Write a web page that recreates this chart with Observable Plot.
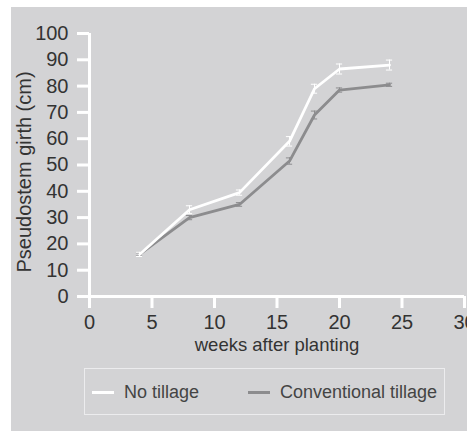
<!DOCTYPE html>
<html>
<head>
<meta charset="utf-8">
<script src="https://cdn.jsdelivr.net/npm/d3@7"></script>
<script src="https://cdn.jsdelivr.net/npm/@observablehq/plot@0.6"></script>
<style>
  html, body { margin: 0; padding: 0; background: #ffffff; overflow: hidden; width: 467px; height: 431px; }
  #panel { position: absolute; left: 11px; top: 7px; width: 456px; height: 424px; background: #d3d3d5; overflow: hidden; font-family: "Liberation Sans", Arial, sans-serif; }
  #chart svg { display: block; overflow: visible; }
  #legend { position: absolute; left: 73px; top: 361px; width: 361px; height: 47px; border: 1.5px solid #ececee; box-sizing: border-box; color: #444; font-size: 18px; }
  .item { position: absolute; top: 0; height: 46px; display: flex; align-items: center; }
  .swatch { display: inline-block; width: 22px; height: 3px; margin-right: 10px; }
</style>
</head>
<body>
<div id="panel">
  <div id="chart"></div>
  <div id="legend"></div>
</div>
<script>
// Data
const weeks = [4, 8, 12, 16, 18, 20, 24];
const noTillage = [16, 33, 39.5, 59, 79, 86.5, 88];
const noTillageErr = [0.8, 1.5, 1.0, 1.8, 1.7, 1.9, 1.9];
const conventional = [16, 30, 35, 51.5, 69, 78.5, 80.5];
const conventionalErr = [0.6, 0.8, 0.7, 1.2, 1.5, 0.8, 0.6];
const seriesNames = ["No tillage", "Conventional tillage"];
const seriesColors = ["#ffffff", "#8c8c8e"];
const xTicks = [0, 5, 10, 15, 20, 25, 30];
const yTicks = [0, 10, 20, 30, 40, 50, 60, 70, 80, 90, 100];
const xLabel = "weeks after planting";
const yLabel = "Pseudostem girth (cm)";

const rows = [];
weeks.forEach((w, i) => {
  rows.push({series: seriesNames[1], x: w, y: conventional[i], e: conventionalErr[i]});
});
weeks.forEach((w, i) => {
  rows.push({series: seriesNames[0], x: w, y: noTillage[i], e: noTillageErr[i]});
});

const capHalf = 0.25;
const marks = [];
seriesNames.slice().reverse().forEach((name) => {
  const color = seriesColors[seriesNames.indexOf(name)];
  const d = rows.filter(r => r.series === name);
  marks.push(Plot.line(d, {x: "x", y: "y", stroke: color, strokeWidth: 2.8}));
  marks.push(Plot.ruleX(d, {x: "x", y1: r => r.y - r.e, y2: r => r.y + r.e, stroke: color, strokeWidth: 1}));
  marks.push(Plot.ruleY(d, {y: r => r.y - r.e, x1: r => r.x - capHalf, x2: r => r.x + capHalf, stroke: color, strokeWidth: 1}));
  marks.push(Plot.ruleY(d, {y: r => r.y + r.e, x1: r => r.x - capHalf, x2: r => r.x + capHalf, stroke: color, strokeWidth: 1}));
});

const chart = Plot.plot({
  width: 456,
  height: 345,
  marginLeft: 78,
  marginRight: 3,
  marginTop: 26,
  marginBottom: 56,
  style: {background: "transparent", fontFamily: "'Liberation Sans', Arial, sans-serif"},
  x: {domain: [0, 30]},
  y: {domain: [0, 100]},
  marks: [
    Plot.axisY({ticks: yTicks, tickSize: 12, tickPadding: 9, stroke: "#ffffff", strokeWidth: 3, fill: "#333", fontSize: 20, label: null}),
    Plot.axisX({ticks: xTicks, tickSize: 12, tickPadding: 6, stroke: "#ffffff", strokeWidth: 3, fill: "#333", fontSize: 20, label: null}),
    Plot.ruleX([0], {y1: 0, y2: 100, stroke: "#ffffff", strokeWidth: 3}),
    Plot.ruleY([0], {x1: 0, x2: 30, stroke: "#ffffff", strokeWidth: 3}),
    Plot.text([xLabel], {frameAnchor: "bottom", dy: 49, fontSize: 18.5, fill: "#333", lineAnchor: "middle"}),
    Plot.text([yLabel], {frameAnchor: "left", textAnchor: "middle", dx: -65, dy: 7, rotate: -90, fontSize: 20, fill: "#333", lineAnchor: "middle"}),
    ...marks
  ]
});
document.getElementById("chart").appendChild(chart);

const legend = document.getElementById("legend");
const lefts = [7, 163];
seriesNames.forEach((name, i) => {
  const item = document.createElement("div");
  item.className = "item";
  item.style.left = lefts[i] + "px";
  const sw = document.createElement("span");
  sw.className = "swatch";
  sw.style.background = seriesColors[i];
  const label = document.createElement("span");
  label.textContent = name;
  item.appendChild(sw);
  item.appendChild(label);
  legend.appendChild(item);
});
</script>
</body>
</html>
